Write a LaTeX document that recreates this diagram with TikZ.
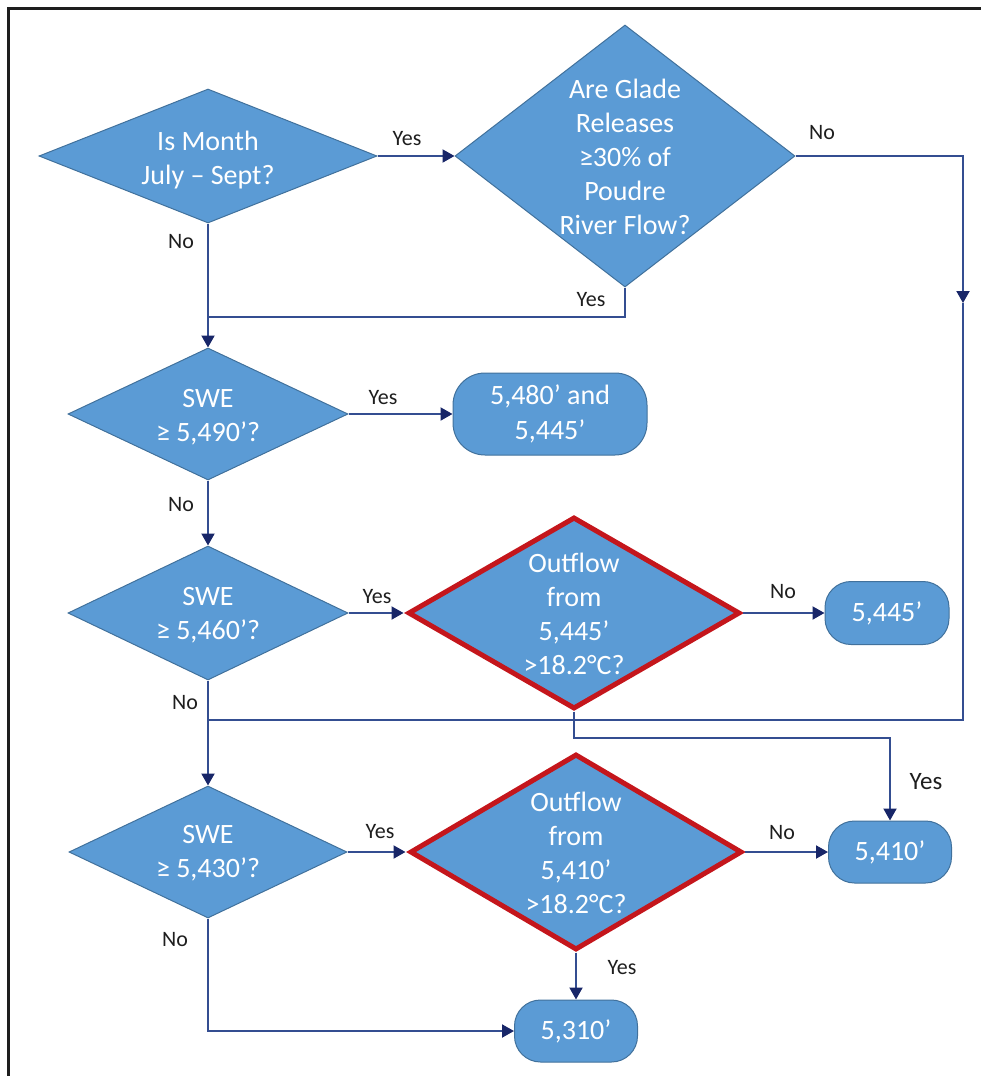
\documentclass[tikz,border=0pt]{standalone}
\usepackage{fontspec}
\setmainfont{Carlito}
\usetikzlibrary{shapes.geometric,arrows.meta}
\definecolor{boxblue}{RGB}{91,155,213}
\definecolor{edgeblue}{RGB}{65,113,156}
\definecolor{linenavy}{RGB}{52,78,145}
\definecolor{tipnavy}{RGB}{24,38,104}
\definecolor{warnred}{RGB}{196,22,28}
\definecolor{inkgray}{RGB}{30,30,30}
\begin{document}
\begin{tikzpicture}[x=1pt,y=-1pt,
  dec/.style={diamond,fill=boxblue,draw=edgeblue,line width=1pt,inner sep=0pt},
  hot/.style={dec,draw=warnred,line width=5pt},
  term/.style={rectangle,rounded corners=26pt,fill=boxblue,draw=edgeblue,line width=1pt,
    text=white,align=center,font=\fontsize{28}{35}\selectfont},
  txt/.style={text=white,align=center,inner sep=0pt,font=\fontsize{28}{34}\selectfont},
  lbl/.style={text=inkgray,inner sep=0pt,font=\fontsize{22}{26}\selectfont},
  wire/.style={draw=linenavy,line width=2pt},
  flow/.style={wire,-{Triangle[length=12pt,width=13pt,color=tipnavy]}}]
\useasboundingbox (0,0) rectangle (981,1076);
\draw[inkgray,line width=3pt] (8,1076) -- (8,8) -- (981,8);
\node[dec,minimum width=338pt,minimum height=134pt] (d1) at (208,156) {};
\node[dec,minimum width=340pt,minimum height=262pt] (d2) at (625,156) {};
\node[dec,minimum width=280pt,minimum height=132pt] (d3) at (208,414) {};
\node[term,minimum width=194pt,minimum height=82pt,rounded corners=32pt] (b1) at (550,414) {5,480’ and\\5,445’};
\node[dec,minimum width=280pt,minimum height=134pt] (d4) at (208,613) {};
\node[hot,minimum width=332pt,minimum height=192pt] (d5) at (574,613) {};
\node[term,minimum width=124pt,minimum height=63pt] (b2) at (887,613) {5,445’};
\node[dec,minimum width=278pt,minimum height=132pt] (d6) at (208,852) {};
\node[hot,minimum width=332pt,minimum height=196pt] (d7) at (576,852) {};
\node[term,minimum width=123pt,minimum height=62pt] (b3) at (890,852) {5,410’};
\node[term,minimum width=123pt,minimum height=62pt] (b4) at (576,1031) {5,310’};
\node[txt] (t1) at (208,160) {Is Month\\July – Sept?};
\node[txt] (t2) at (625,157) {Are Glade\\Releases\\≥30\% of\\Poudre\\River Flow?};
\node[txt] (t3) at (208,417) {SWE\\≥ 5,490’?};
\node[txt] (t4) at (208,615) {SWE\\≥ 5,460’?};
\node[txt] (t5) at (574,614) {Outflow\\from\\5,445’\\>18.2°C?};
\node[txt] (t6) at (208,853) {SWE\\≥ 5,430’?};
\node[txt] (t7) at (576,853) {Outflow\\from\\5,410’\\>18.2°C?};
\coordinate (m1) at (208,317);
\coordinate (r1) at (963,156);
\coordinate (r2) at (963,303);
\coordinate (r3) at (963,720);
\coordinate (m2) at (208,720);
\coordinate (m3) at (890,738);
\draw[flow] (d1.east) -- (d2.west);
\draw[flow] (d1.south) -- (d3.north);
\draw[wire] (d2.south) |- (m1);
\draw[flow] (d2.east) -- (r1) -- (r2);
\draw[wire] (r2) -- (r3) -- (m2);
\draw[flow] (d3.east) -- (b1.west);
\draw[flow] (d3.south) -- (d4.north);
\draw[flow,shorten >=2pt] (d4.east) -- (d5.west);
\draw[flow] (d5.east) -- (b2.west);
\draw[flow] (d4.south) -- (d6.north);
\draw[flow] (d5.south) |- (m3) -- (b3.north);
\draw[flow,shorten >=2pt] (d6.east) -- (d7.west);
\draw[flow] (d7.east) -- (b3.west);
\draw[flow] (d7.south) -- (b4.north);
\draw[flow] (d6.south) |- (b4.west);
\node[lbl] (l1) at (407,139) {Yes};
\node[lbl] (l2) at (181,242) {No};
\node[lbl] (l3) at (822,133) {No};
\node[lbl] (l4) at (591,300) {Yes};
\node[lbl] (l5) at (383,398) {Yes};
\node[lbl] (l6) at (181,505) {No};
\node[lbl] (l7) at (377,597) {Yes};
\node[lbl] (l8) at (783,592) {No};
\node[lbl] (l9) at (185,703) {No};
\node[lbl,font=\fontsize{25}{30}\selectfont] (l10) at (926,782) {Yes};
\node[lbl] (l11) at (380,832) {Yes};
\node[lbl] (l12) at (782,833) {No};
\node[lbl] (l13) at (175,940) {No};
\node[lbl] (l14) at (622,968) {Yes};
\end{tikzpicture}
\end{document}
